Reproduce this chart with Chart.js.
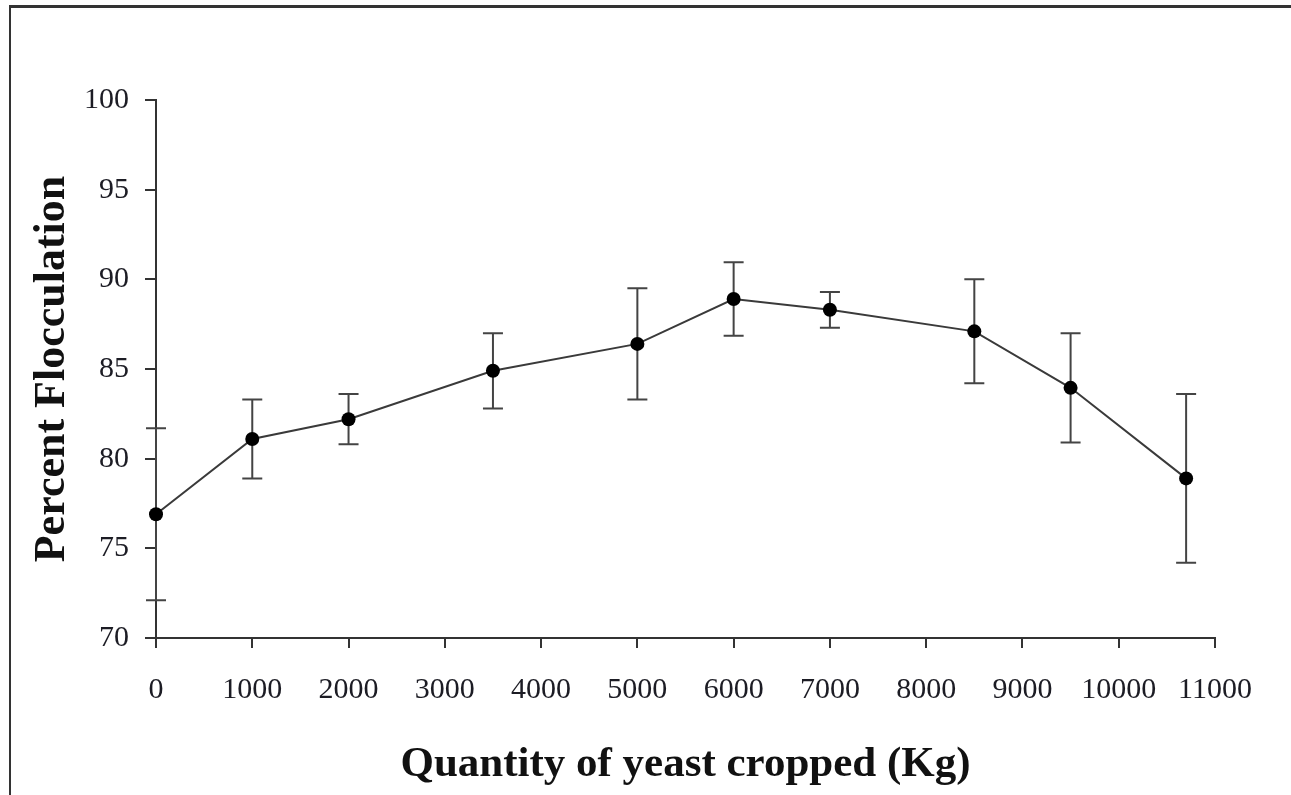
<!DOCTYPE html>
<html>
<head>
<meta charset="utf-8">
<title>Percent Flocculation</title>
<script src="https://cdn.jsdelivr.net/npm/chart.js@4.4.1/dist/chart.umd.min.js"></script>
<style>
  html, body { margin: 0; padding: 0; background: #fff; }
  #wrap { position: relative; width: 1291px; height: 795px; overflow: hidden; }
  #frame {
    position: absolute; left: 9px; top: 5px; right: -10px; bottom: -10px;
    border-top: 3px solid #333; border-left: 2px solid #333;
  }
  canvas { position: absolute; left: 0; top: 0; }
</style>
</head>
<body>
<div id="wrap">
  <div id="frame"></div>
  <canvas id="flocChart" width="1291" height="795"></canvas>
</div>
<script>
const quantityKg = [0, 1000, 2000, 3500, 5000, 6000, 7000, 8500, 9500, 10700];
const flocculation = [76.9, 81.1, 82.2, 84.9, 86.4, 88.9, 88.3, 87.1, 83.95, 78.9];
const flocError = [4.8, 2.2, 1.4, 2.1, 3.1, 2.05, 1.0, 2.9, 3.05, 4.7];

const xTitle = "Quantity of yeast cropped (Kg)";
const yTitle = "Percent Flocculation";

const serif = '"Liberation Serif", "Times New Roman", serif';
const inkColor = "#1c1c24";
const axisColor = "#333";

// draws vertical error bars under the points
const errorBarPlugin = {
  id: "errorBars",
  beforeDatasetsDraw(chart) {
    const ctx = chart.ctx;
    const xScale = chart.scales.x;
    const yScale = chart.scales.y;
    const capHalf = 10;

    ctx.save();
    ctx.strokeStyle = "#444";
    ctx.lineWidth = 2;

    quantityKg.forEach((q, i) => {
      const x = xScale.getPixelForValue(q);
      const yTop = yScale.getPixelForValue(flocculation[i] + flocError[i]);
      const yBottom = yScale.getPixelForValue(flocculation[i] - flocError[i]);

      ctx.beginPath();
      ctx.moveTo(x, yTop);
      ctx.lineTo(x, yBottom);
      ctx.moveTo(x - capHalf, yTop);
      ctx.lineTo(x + capHalf, yTop);
      ctx.moveTo(x - capHalf, yBottom);
      ctx.lineTo(x + capHalf, yBottom);
      ctx.stroke();
    });

    ctx.restore();
  },
};

const points = quantityKg.map((q, i) => ({ x: q, y: flocculation[i] }));

new Chart(document.getElementById("flocChart"), {
  type: "scatter",
  data: {
    datasets: [
      {
        data: points,
        showLine: true,
        borderColor: "#3a3a3a",
        borderWidth: 2,
        pointRadius: 7,
        pointHoverRadius: 7,
        pointBackgroundColor: "#000",
        pointBorderWidth: 0,
        clip: false,
      },
    ],
  },
  options: {
    responsive: false,
    animation: false,
    layout: {
      padding: { top: 100, right: 76, bottom: 0, left: 0 },
    },
    plugins: {
      legend: { display: false },
      tooltip: { enabled: false },
    },
    scales: {
      x: {
        type: "linear",
        min: 0,
        max: 11000,
        afterFit: (scale) => {
          scale.height = 157;
        },
        ticks: {
          stepSize: 1000,
          autoSkip: false,
          maxRotation: 0,
          padding: 24,
          color: inkColor,
          font: { family: serif, size: 30 },
          callback: (value) => String(value),
        },
        grid: {
          drawOnChartArea: false,
          drawTicks: true,
          tickLength: 10,
          color: axisColor,
          lineWidth: 2,
        },
        border: { color: axisColor, width: 2 },
        title: {
          display: true,
          text: xTitle,
          color: "#111",
          font: { family: serif, size: 43, weight: "bold" },
          padding: { top: 0, bottom: 4 },
        },
      },
      y: {
        min: 70,
        max: 100,
        afterFit: (scale) => {
          scale.width = 156;
        },
        ticks: {
          stepSize: 5,
          padding: 16,
          color: inkColor,
          font: { family: serif, size: 30 },
        },
        grid: {
          drawOnChartArea: false,
          drawTicks: true,
          tickLength: 11,
          color: axisColor,
          lineWidth: 2,
        },
        border: { color: axisColor, width: 2 },
        title: {
          display: true,
          text: yTitle,
          color: "#111",
          font: { family: serif, size: 44, weight: "bold" },
          padding: { top: 26, bottom: 0 },
        },
      },
    },
  },
  plugins: [errorBarPlugin],
});
</script>
</body>
</html>
